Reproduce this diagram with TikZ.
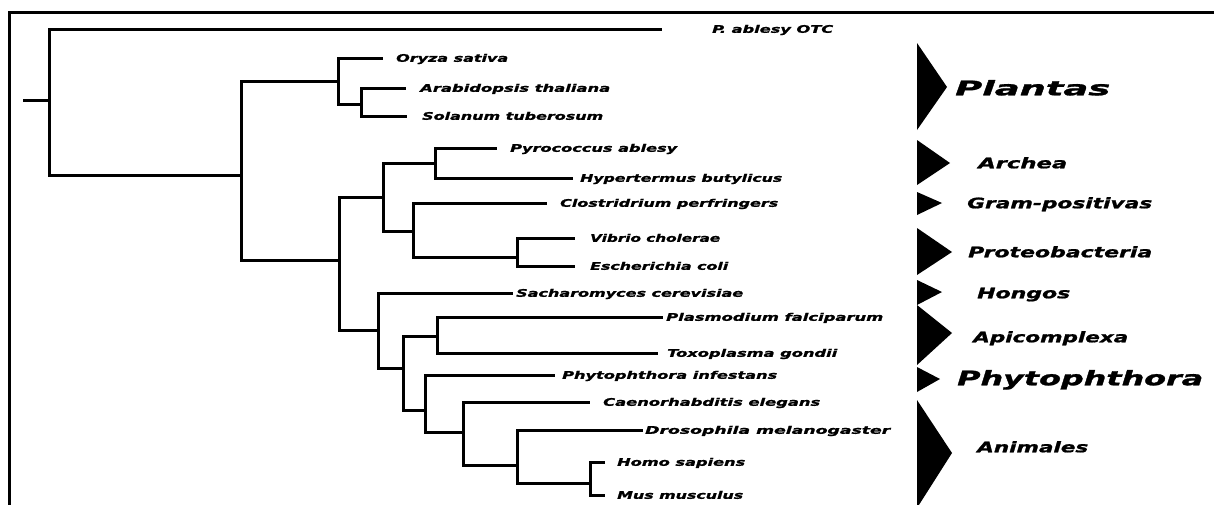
\documentclass[tikz,border=0pt]{standalone}
\usepackage{fontspec}
\newfontfamily\labf{DejaVu Sans}[BoldItalicFeatures={FakeBold=1.2}]
\newcommand\fitw[2]{\resizebox{#1pt}{\height}{#2}}
\tikzset{
  br/.style={line width=3pt},
  frame/.style={line width=3pt},
  leaf/.style={anchor=west, inner sep=0pt, text height=7.6pt, text depth=0pt,
    font=\labf\bfseries\itshape\fontsize{10.5}{12}\selectfont},
  grp/.style={anchor=west, inner sep=0pt, text height=10.5pt, text depth=0pt,
    font=\labf\bfseries\itshape\fontsize{14.5}{16}\selectfont},
  biglab/.style={anchor=west, inner sep=0pt, text height=14.6pt, text depth=0pt,
    font=\labf\bfseries\itshape\fontsize{20}{24}\selectfont},
  tri/.style={fill=black, draw=none}
}
\begin{document}
\begin{tikzpicture}[x=1pt, y=-1pt]
\clip (0,0) rectangle (1214,504);
\fill[white] (0,0) rectangle (1214,504);
% frame
\draw[frame] (9,510) -- (9,12) -- (1220,12);
% internal nodes
\coordinate (rs) at (23,100);
\coordinate (r) at (49,100);
\coordinate (A) at (241,175);
\coordinate (P) at (338,81);
\coordinate (P2) at (361,104);
\coordinate (B) at (339,260);
\coordinate (C) at (383,197);
\coordinate (Ar) at (435,163);
\coordinate (Ba) at (413,231);
\coordinate (Pr) at (517,257);
\coordinate (D) at (378,330);
\coordinate (E) at (403,368);
\coordinate (Ap) at (437,336);
\coordinate (F) at (425,410);
\coordinate (G) at (463,432);
\coordinate (H) at (517,465);
\coordinate (I) at (590,483);
% leaves
\coordinate (otc) at (662,29);
\coordinate (oryza) at (383,58);
\coordinate (arab) at (406,88);
\coordinate (sol) at (407,116);
\coordinate (pyro) at (497,148);
\coordinate (hyper) at (573,178);
\coordinate (clos) at (547,203);
\coordinate (vib) at (575,238);
\coordinate (esch) at (575,266);
\coordinate (sac) at (513,293);
\coordinate (plas) at (663,317);
\coordinate (toxo) at (658,353);
\coordinate (phyt) at (555,375);
\coordinate (caen) at (590,402);
\coordinate (dros) at (643,430);
\coordinate (homo) at (605,462);
\coordinate (mus) at (605,495);
% labels
\node[leaf] (t-otc) at (712,29) {\fitw{121}{P. ablesy OTC}};
\node[leaf] (t-oryza) at (396,58) {\fitw{112}{Oryza sativa}};
\node[leaf] (t-arab) at (420,88) {\fitw{190}{Arabidopsis thaliana}};
\node[leaf] (t-sol) at (422,116) {\fitw{181}{Solanum tuberosum}};
\node[leaf] (t-pyro) at (510,148) {\fitw{167}{Pyrococcus ablesy}};
\node[leaf] (t-hyper) at (580,178) {\fitw{202}{Hypertermus butylicus}};
\node[leaf] (t-clos) at (560,203) {\fitw{218}{Clostridrium perfringers}};
\node[leaf] (t-vib) at (590,238) {\fitw{130}{Vibrio cholerae}};
\node[leaf] (t-esch) at (590,266) {\fitw{138}{Escherichia coli}};
\node[leaf] (t-sac) at (516,293) {\fitw{227}{Sacharomyces cerevisiae}};
\node[leaf] (t-plas) at (666,317) {\fitw{217}{Plasmodium falciparum}};
\node[leaf] (t-toxo) at (667,353) {\fitw{170}{Toxoplasma gondii}};
\node[leaf] (t-phyt) at (562,375) {\fitw{215}{Phytophthora infestans}};
\node[leaf] (t-caen) at (603,402) {\fitw{217}{Caenorhabditis elegans}};
\node[leaf] (t-dros) at (645,430) {\fitw{245}{Drosophila melanogaster}};
\node[leaf] (t-homo) at (617,462) {\fitw{128}{Homo sapiens}};
\node[leaf] (t-mus) at (617,495) {\fitw{126}{Mus musculus}};
% tree
\draw[br] (rs) -- (r);
\draw[br] (r) |- (otc);   \draw[br] (r) |- (A);
\draw[br] (A) |- (P);     \draw[br] (A) |- (B);
\draw[br] (P) |- (oryza); \draw[br] (P) |- (P2);
\draw[br] (P2) |- (arab); \draw[br] (P2) |- (sol);
\draw[br] (B) |- (C);     \draw[br] (B) |- (D);
\draw[br] (C) |- (Ar);    \draw[br] (C) |- (Ba);
\draw[br] (Ar) |- (pyro); \draw[br] (Ar) |- (hyper);
\draw[br] (Ba) |- (clos); \draw[br] (Ba) |- (Pr);
\draw[br] (Pr) |- (vib);  \draw[br] (Pr) |- (esch);
\draw[br] (D) |- (sac);   \draw[br] (D) |- (E);
\draw[br] (E) |- (Ap);    \draw[br] (E) |- (F);
\draw[br] (Ap) |- (plas); \draw[br] (Ap) |- (toxo);
\draw[br] (F) |- (phyt);  \draw[br] (F) |- (G);
\draw[br] (G) |- (caen);  \draw[br] (G) |- (H);
\draw[br] (H) |- (dros);  \draw[br] (H) |- (I);
\draw[br] (I) |- (homo);  \draw[br] (I) |- (mus);
% group markers
\fill[tri] (917,43) -- (917,130) -- (947,87) -- cycle;
\fill[tri] (917,140) -- (917,185) -- (950,163) -- cycle;
\fill[tri] (917,192) -- (917,215) -- (942,203) -- cycle;
\fill[tri] (917,228) -- (917,275) -- (952,252) -- cycle;
\fill[tri] (917,280) -- (917,305) -- (942,292) -- cycle;
\fill[tri] (917,305) -- (917,365) -- (952,333) -- cycle;
\fill[tri] (917,367) -- (917,392) -- (940,379) -- cycle;
\fill[tri] (917,400) -- (917,508) -- (952,453) -- cycle;
% group labels
\node[biglab] (g-plant) at (955,88) {\fitw{155}{Plantas}};
\node[grp] (g-arch) at (978,163) {\fitw{89}{Archea}};
\node[grp] (g-gram) at (967,203) {\fitw{185}{Gram-positivas}};
\node[grp] (g-prot) at (968,252) {\fitw{184}{Proteobacteria}};
\node[grp] (g-hong) at (977,293) {\fitw{93}{Hongos}};
\node[grp] (g-apic) at (973,337) {\fitw{155}{Apicomplexa}};
\node[biglab] (g-phyt) at (957,378) {\fitw{246}{Phytophthora}};
\node[grp] (g-anim) at (977,447) {\fitw{111}{Animales}};
\end{tikzpicture}
\end{document}
